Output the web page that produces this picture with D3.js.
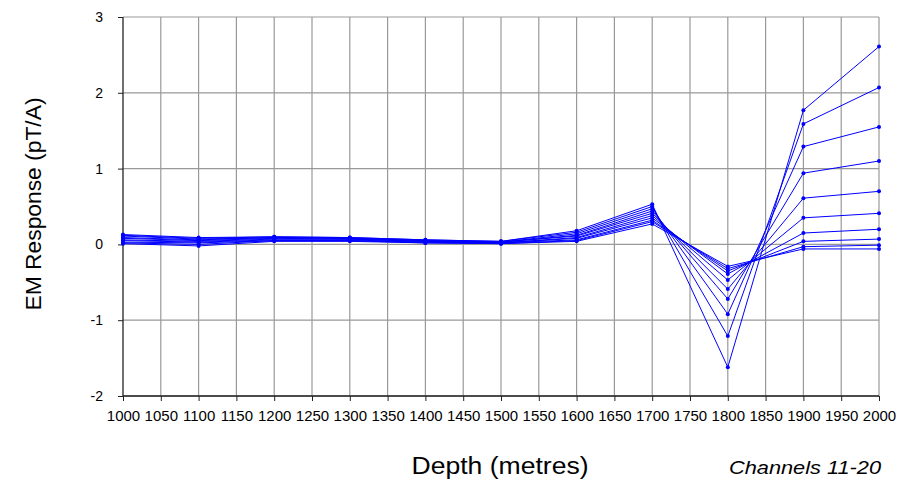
<!DOCTYPE html>
<html>
<head>
<meta charset="utf-8">
<script src="https://cdn.jsdelivr.net/npm/d3@7"></script>
<style>
  body { margin: 0; background: #fff; }
  svg { display: block; font-family: "Liberation Sans", Arial, sans-serif; }
</style>
</head>
<body>
<svg id="drawing_region"></svg>
<script>
// depths where each channel was sampled
const depths = [1000, 1100, 1200, 1300, 1400, 1500, 1600, 1700, 1800, 1900, 2000];

// channel responses (pT/A), channels 11..20
const ch11 = [0.13, 0.09, 0.10, 0.09, 0.06, 0.04, 0.18, 0.53, -1.62, 1.77, 2.61];
const ch12 = [0.12, 0.08, 0.10, 0.09, 0.06, 0.04, 0.16, 0.50, -1.21, 1.59, 2.07];
const ch13 = [0.11, 0.07, 0.09, 0.08, 0.05, 0.03, 0.14, 0.47, -0.92, 1.29, 1.55];
const ch14 = [0.09, 0.06, 0.09, 0.08, 0.05, 0.03, 0.12, 0.44, -0.72, 0.94, 1.10];
const ch15 = [0.08, 0.05, 0.08, 0.07, 0.04, 0.03, 0.11, 0.41, -0.59, 0.61, 0.70];
const ch16 = [0.06, 0.04, 0.07, 0.07, 0.04, 0.02, 0.09, 0.38, -0.47, 0.35, 0.41];
const ch17 = [0.05, 0.03, 0.06, 0.06, 0.03, 0.02, 0.08, 0.35, -0.39, 0.15, 0.20];
const ch18 = [0.03, 0.02, 0.05, 0.05, 0.03, 0.02, 0.06, 0.32, -0.35, 0.04, 0.07];
const ch19 = [0.02, 0.00, 0.05, 0.05, 0.02, 0.01, 0.05, 0.30, -0.32, -0.03, -0.01];
const ch20 = [0.01, -0.02, 0.04, 0.04, 0.02, 0.01, 0.04, 0.27, -0.29, -0.06, -0.06];
const channels = [ch11, ch12, ch13, ch14, ch15, ch16, ch17, ch18, ch19, ch20];

const xTicks = d3.range(1000, 2001, 50);
const yTicks = [-2, -1, 0, 1, 2, 3];

const config = {
    width: 897,
    height: 481,
    margin: {top: 17, right: 18, bottom: 85, left: 123}
};

const svg = d3.select("#drawing_region")
    .attr("width", config.width)
    .attr("height", config.height);

const chart = svg.append("g")
    .attr("transform", `translate(${config.margin.left},${config.margin.top})`);

const inner_width = config.width - config.margin.left - config.margin.right;
const inner_height = config.height - config.margin.top - config.margin.bottom;

const xscale = d3.scaleLinear().domain([1000, 2000]).range([0, inner_width]);
const yscale = d3.scaleLinear().domain([-2, 3]).range([inner_height, 0]);

// grid
chart.append("g")
    .selectAll("line")
    .data(xTicks.slice(1))
    .join("line")
    .attr("x1", d => xscale(d)).attr("x2", d => xscale(d))
    .attr("y1", 0).attr("y2", inner_height)
    .attr("stroke", "#999").attr("stroke-width", 1.2);

chart.append("g")
    .selectAll("line")
    .data(yTicks)
    .join("line")
    .attr("x1", 0).attr("x2", inner_width)
    .attr("y1", d => yscale(d)).attr("y2", d => yscale(d))
    .attr("stroke", "#999").attr("stroke-width", 1.2);

// axes
const xaxis = d3.axisBottom(xscale).tickValues(xTicks).tickSize(5).tickPadding(9)
    .tickFormat(d => String(d));
const yaxis = d3.axisLeft(yscale).tickValues(yTicks).tickSize(5).tickPadding(15)
    .tickFormat(d => String(d));

const xg = chart.append("g")
    .attr("transform", `translate(0,${inner_height})`)
    .call(xaxis);
const yg = chart.append("g").call(yaxis);

[xg, yg].forEach(g => {
    g.select(".domain").attr("stroke", "#222").attr("stroke-width", 1.3);
    g.selectAll(".tick line").attr("stroke", "#222");
    g.selectAll("text").attr("fill", "#000").style("font-size", "14px")
        .style("font-family", "'Liberation Sans', Arial, sans-serif");
});
xg.selectAll("text").style("font-size", "15px");
xg.selectAll(".domain").attr("d", `M0,0H${inner_width}`);
yg.selectAll(".domain").attr("d", `M0,${inner_height}V0`);

// series
const line = d3.line()
    .x((d, i) => xscale(depths[i]))
    .y(d => yscale(d));

chart.append("g")
    .selectAll("path")
    .data(channels)
    .join("path")
    .attr("d", line)
    .attr("fill", "none")
    .attr("stroke", "#0000ff")
    .attr("stroke-width", 1);

chart.append("g")
    .selectAll("g")
    .data(channels)
    .join("g")
    .selectAll("circle")
    .data(d => d)
    .join("circle")
    .attr("cx", (d, i) => xscale(depths[i]))
    .attr("cy", d => yscale(d))
    .attr("r", 2)
    .attr("fill", "#0000ff");

// labels
svg.append("text")
    .attr("transform", "translate(41,204) rotate(-90)")
    .attr("text-anchor", "middle")
    .attr("textLength", 213)
    .attr("lengthAdjust", "spacingAndGlyphs")
    .style("font-size", "22px")
    .text("EM Response (pT/A)");

svg.append("text")
    .attr("x", 500)
    .attr("y", 474)
    .attr("text-anchor", "middle")
    .attr("textLength", 177)
    .attr("lengthAdjust", "spacingAndGlyphs")
    .style("font-size", "23px")
    .text("Depth (metres)");

svg.append("text")
    .attr("x", 805)
    .attr("y", 474)
    .attr("text-anchor", "middle")
    .attr("textLength", 152)
    .attr("lengthAdjust", "spacingAndGlyphs")
    .style("font-size", "18px")
    .style("font-style", "italic")
    .text("Channels 11-20");
</script>
</body>
</html>
